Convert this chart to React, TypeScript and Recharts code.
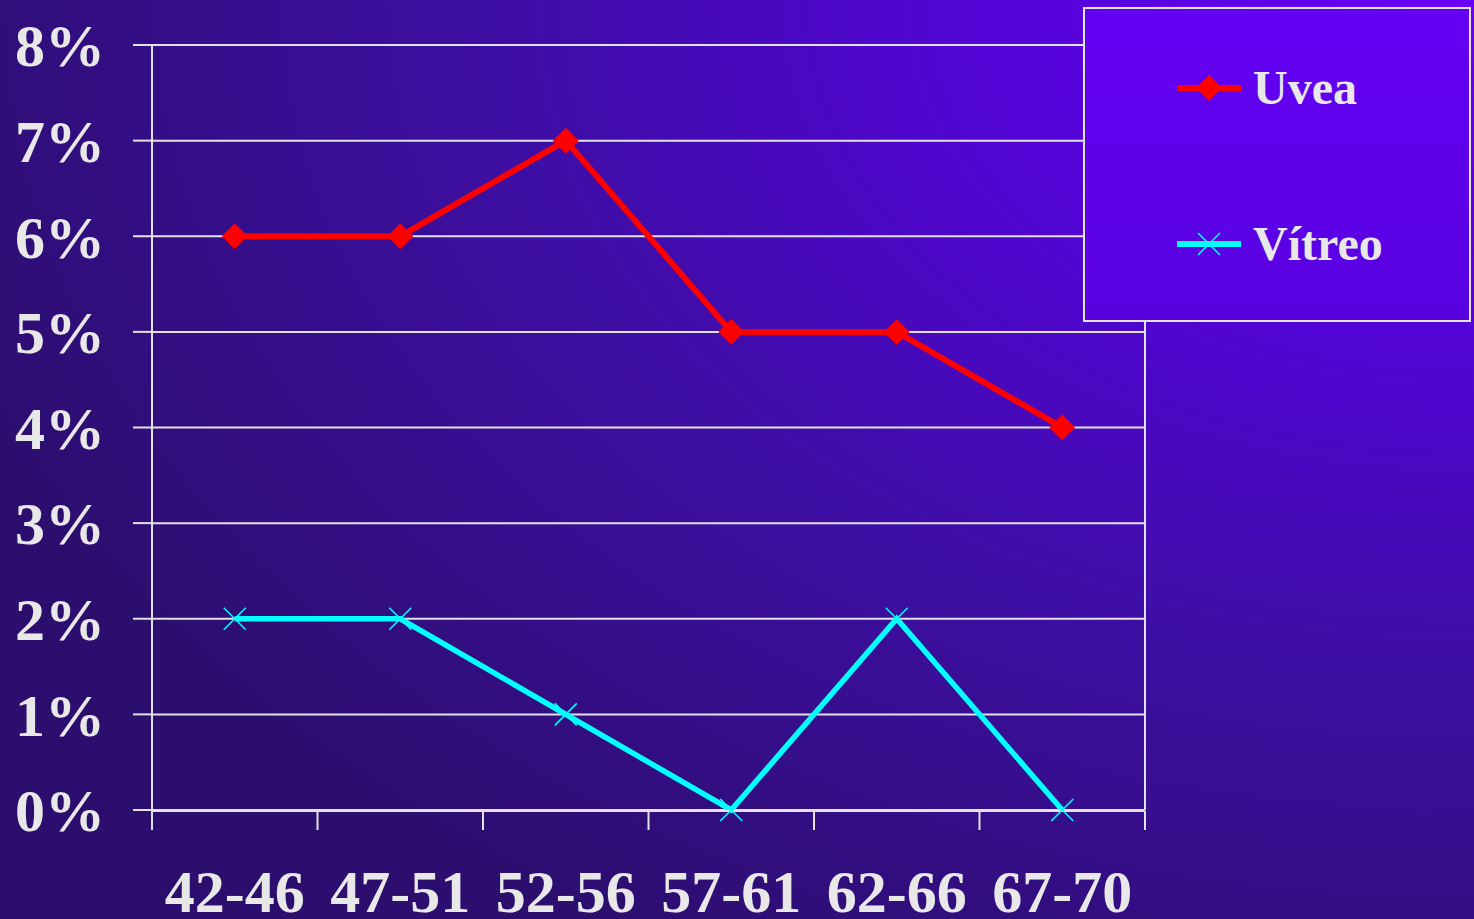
import React from "react";
import {
  CartesianGrid,
  Legend,
  Line,
  LineChart,
  ReferenceLine,
  XAxis,
  YAxis,
} from "recharts";

const ageGroups = ["42-46", "47-51", "52-56", "57-61", "62-66", "67-70"];
const uvea = [6, 6, 7, 5, 5, 4];
const vitreo = [2, 2, 1, 0, 2, 0];
const yTicks = [0, 1, 2, 3, 4, 5, 6, 7, 8];
const bandEdges = [0, 1, 2, 3, 4, 5, 6];

const data = ageGroups.map((group, i) => ({
  group,
  slot: i,
  uvea: uvea[i],
  vitreo: vitreo[i],
}));

const FONT = '"Liberation Serif", "Times New Roman", serif';
const TEXT = "#e8e8e8";
const GRID = "#e2e2e2";
const RED = "#ff0000";
const CYAN = "#00ffff";

const Diamond = (props: any) => {
  const { cx, cy } = props;
  const size = 13;
  if (cx == null || cy == null) return null;
  return (
    <polygon
      points={`${cx},${cy - size} ${cx + size},${cy} ${cx},${cy + size} ${cx - size},${cy}`}
      fill={RED}
    />
  );
};

const Cross = (props: any) => {
  const { cx, cy } = props;
  const size = 11;
  if (cx == null || cy == null) return null;
  return (
    <g stroke={CYAN} strokeWidth={1.6}>
      <line x1={cx - size} y1={cy - size} x2={cx + size} y2={cy + size} />
      <line x1={cx - size} y1={cy + size} x2={cx + size} y2={cy - size} />
    </g>
  );
};

// tick marks only, no labels
const NoLabel = () => <g />;

const legendItems = [
  { name: "Uvea", color: RED, marker: "diamond", top: 49 },
  { name: "Vítreo", color: CYAN, marker: "cross", top: 205 },
];

const renderLegend = () => (
  <div
    style={{
      width: 388,
      height: 315,
      border: `2px solid ${GRID}`,
      boxSizing: "border-box",
      position: "relative",
      background: "linear-gradient(180deg, #6401f4 0%, #5802e0 100%)",
    }}
  >
    {legendItems.map((it) => (
      <div
        key={it.name}
        style={{
          position: "absolute",
          left: 92,
          top: it.top,
          display: "flex",
          alignItems: "center",
          height: 60,
        }}
      >
        <svg width={66} height={30} style={{ overflow: "visible" }}>
          <line x1={0} y1={15} x2={64} y2={15} stroke={it.color} strokeWidth={6} />
          {it.marker === "diamond" ? (
            <Diamond cx={32} cy={15} />
          ) : (
            <Cross cx={32} cy={15} />
          )}
        </svg>
        <span
          style={{
            marginLeft: 10,
            fontFamily: FONT,
            fontWeight: "bold",
            fontSize: 48,
            color: TEXT,
            lineHeight: "60px",
          }}
        >
          {it.name}
        </span>
      </div>
    ))}
  </div>
);

export default function App() {
  return (
    <div
      style={{
        width: 1474,
        height: 919,
        position: "relative",
        background:
          "radial-gradient(ellipse 110% 120% at 100% 0%, #6a00fa 0%, #5204d6 30%, #3e0ea4 60%, #2c0e6e 100%)",
      }}
    >
      <style>{`body{margin:0;}`}</style>
      <LineChart
        width={1474}
        height={919}
        data={data}
        margin={{ top: 45, right: 329, left: 0, bottom: 0 }}
      >
        <XAxis
          xAxisId="cat"
          dataKey="group"
          scale="band"
          height={1}
          axisLine={false}
          tickLine={false}
          tickSize={0}
          tickMargin={59}
          interval={0}
          tick={{ fill: TEXT, fontSize: 60, fontWeight: "bold", fontFamily: FONT }}
        />
        <XAxis
          xAxisId="grid"
          dataKey="slot"
          type="number"
          domain={[0, 6]}
          ticks={bandEdges}
          interval={0}
          allowDataOverflow
          height={108}
          tick={<NoLabel />}
          tickSize={19}
          axisLine={{ stroke: GRID, strokeWidth: 2 }}
          tickLine={{ stroke: GRID, strokeWidth: 2 }}
        />
        <YAxis
          domain={[0, 8]}
          ticks={yTicks}
          interval={0}
          width={152}
          tickSize={19}
          tickMargin={28}
          tickFormatter={(v: number) => `${v}%`}
          axisLine={{ stroke: GRID, strokeWidth: 2 }}
          tickLine={{ stroke: GRID, strokeWidth: 2 }}
          tick={{ fill: TEXT, fontSize: 60, fontWeight: "bold", fontFamily: FONT }}
        />
        <CartesianGrid
          xAxisId="cat"
          vertical={false}
          stroke={GRID}
          strokeWidth={2}
        />
        <ReferenceLine xAxisId="grid" x={6} stroke={GRID} strokeWidth={2} />
        <Line
          xAxisId="cat"
          dataKey="uvea"
          name="Uvea"
          stroke={RED}
          strokeWidth={6}
          dot={<Diamond />}
          activeDot={false}
          isAnimationActive={false}
        />
        <Line
          xAxisId="cat"
          dataKey="vitreo"
          name="Vítreo"
          stroke={CYAN}
          strokeWidth={5.5}
          dot={<Cross />}
          activeDot={false}
          isAnimationActive={false}
        />
        <Legend
          layout="horizontal"
          verticalAlign="middle"
          align="center"
          content={renderLegend}
          wrapperStyle={{ position: "absolute", top: 7, left: 1083, width: 388 }}
        />
      </LineChart>
    </div>
  );
}
